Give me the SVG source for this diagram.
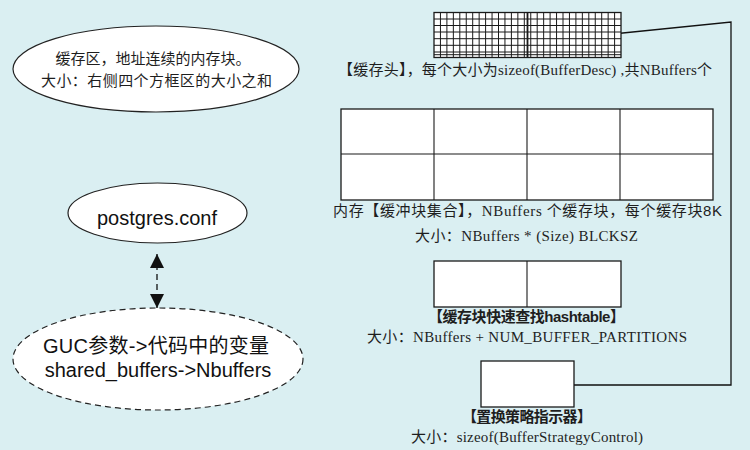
<svg xmlns="http://www.w3.org/2000/svg" width="750" height="450" viewBox="0 0 750 450">
<style>
.bg{fill:#daeff2}
.box{fill:#ffffff;stroke:#1a1a1a;stroke-width:1.3}
.ln{stroke:#1a1a1a;stroke-width:1.1;fill:none}
.grid{stroke:#1a1a1a;stroke-width:1}
.cap{font-family:"Liberation Serif","Noto Sans CJK SC",serif;font-size:15px;fill:#1e1e1e;text-anchor:middle}
.bold{font-weight:bold}
.sans{font-family:"Liberation Sans","Noto Sans CJK SC",sans-serif;fill:#111;text-anchor:middle}
.ell{fill:#ffffff;stroke:#222;stroke-width:1.2}
.dash{stroke-dasharray:6 4}
.conn{stroke:#111;stroke-width:1.3;fill:none}
</style>
<defs>
<marker id="ah" viewBox="0 0 10 10" refX="10" refY="5" markerWidth="10" markerHeight="12" markerUnits="userSpaceOnUse" orient="auto-start-reverse">
<path d="M0,0 L10,5 L0,10 z" fill="#111"/>
</marker>
<marker id="ah2" viewBox="0 0 14 14" refX="14" refY="7" markerWidth="14" markerHeight="14" markerUnits="userSpaceOnUse" orient="auto-start-reverse">
<path d="M0,0 L14,7 L0,14 z" fill="#111"/>
</marker>
</defs>
<rect class="bg" x="0" y="0" width="750" height="450"/>

<g id="connectors">
<polyline class="conn" points="603,35 731,22 731,385 574,385"/>
<line class="conn dash" x1="157" y1="254" x2="157" y2="308" marker-start="url(#ah2)" marker-end="url(#ah2)"/>
</g>

<g id="buffer-area-note">
<ellipse class="ell" cx="156" cy="69" rx="143" ry="43"/>
<text class="cap" x="153" y="64" textLength="195">缓存区，地址连续的内存块。</text>
<text class="cap" x="156.5" y="86" textLength="231">大小：右侧四个方框区的大小之和</text>
</g>

<g id="postgres-conf">
<ellipse class="ell" cx="157.5" cy="213" rx="89.5" ry="30"/>
<text class="sans" x="157" y="225" font-size="20">postgres.conf</text>
</g>

<g id="guc-param">
<ellipse class="ell dash" cx="158" cy="359" rx="145" ry="51"/>
<text class="sans" x="156" y="353" font-size="20" textLength="226">GUC参数-&gt;代码中的变量</text>
<text class="sans" x="158" y="377" font-size="20">shared_buffers-&gt;Nbuffers</text>
</g>

<g id="buffer-descriptors">
<rect class="box" x="434" y="12.5" width="187" height="45"/>
<g class="grid">
<line x1="434" y1="19" x2="621" y2="19"/>
<line x1="434" y1="25.5" x2="621" y2="25.5"/>
<line x1="434" y1="32" x2="621" y2="32"/>
<line x1="434" y1="38.7" x2="621" y2="38.7"/>
<line x1="434" y1="45.3" x2="621" y2="45.3"/>
<line x1="434" y1="52" x2="621" y2="52"/>
<line x1="434" y1="54.7" x2="621" y2="54.7"/>
<line x1="440.45" y1="12.5" x2="440.45" y2="57.5"/>
<line x1="446.9" y1="12.5" x2="446.9" y2="57.5"/>
<line x1="453.35" y1="12.5" x2="453.35" y2="57.5"/>
<line x1="459.8" y1="12.5" x2="459.8" y2="57.5"/>
<line x1="466.25" y1="12.5" x2="466.25" y2="57.5"/>
<line x1="472.7" y1="12.5" x2="472.7" y2="57.5"/>
<line x1="479.15" y1="12.5" x2="479.15" y2="57.5"/>
<line x1="485.6" y1="12.5" x2="485.6" y2="57.5"/>
<line x1="492.05" y1="12.5" x2="492.05" y2="57.5"/>
<line x1="498.5" y1="12.5" x2="498.5" y2="57.5"/>
<line x1="504.95" y1="12.5" x2="504.95" y2="57.5"/>
<line x1="511.4" y1="12.5" x2="511.4" y2="57.5"/>
<line x1="517.85" y1="12.5" x2="517.85" y2="57.5"/>
<line x1="524.3" y1="12.5" x2="524.3" y2="57.5"/>
<line x1="527.5" y1="12.5" x2="527.5" y2="57.5" stroke-width="1.8"/>
<line x1="530.75" y1="12.5" x2="530.75" y2="57.5"/>
<line x1="537.2" y1="12.5" x2="537.2" y2="57.5"/>
<line x1="543.65" y1="12.5" x2="543.65" y2="57.5"/>
<line x1="550.1" y1="12.5" x2="550.1" y2="57.5"/>
<line x1="556.55" y1="12.5" x2="556.55" y2="57.5"/>
<line x1="563" y1="12.5" x2="563" y2="57.5"/>
<line x1="569.45" y1="12.5" x2="569.45" y2="57.5"/>
<line x1="575.9" y1="12.5" x2="575.9" y2="57.5"/>
<line x1="582.35" y1="12.5" x2="582.35" y2="57.5"/>
<line x1="588.8" y1="12.5" x2="588.8" y2="57.5"/>
<line x1="595.25" y1="12.5" x2="595.25" y2="57.5"/>
<line x1="601.7" y1="12.5" x2="601.7" y2="57.5"/>
<line x1="608.15" y1="12.5" x2="608.15" y2="57.5"/>
<line x1="614.6" y1="12.5" x2="614.6" y2="57.5"/>
</g>
<text class="cap" x="525" y="75" font-size="14" textLength="374">【缓存头】，每个大小为sizeof(BufferDesc) ,共NBuffers个</text>
</g>

<g id="buffer-blocks">
<rect class="box" x="341" y="109" width="372" height="91"/>
<line class="ln" x1="341" y1="154" x2="713" y2="154"/>
<line class="ln" x1="434" y1="109" x2="434" y2="200"/>
<line class="ln" x1="527" y1="109" x2="527" y2="200"/>
<line class="ln" x1="620" y1="109" x2="620" y2="200"/>
<text class="cap" x="527.5" y="216" textLength="389">内存【缓冲块集合】，NBuffers 个缓存块，每个缓存块<tspan font-family="Liberation Sans, sans-serif">8K</tspan></text>
<text class="cap" x="526.5" y="241" textLength="223">大小：NBuffers *  (Size) BLCKSZ</text>
</g>

<g id="hashtable">
<rect class="box" x="434" y="261" width="187" height="46"/>
<line class="ln" x1="527" y1="261" x2="527" y2="307"/>
<text class="cap bold" x="526.5" y="322" font-size="14" textLength="197">【缓存块快速查找<tspan font-family="Liberation Sans, sans-serif">hashtable</tspan>】</text>
<text class="cap" x="527" y="342" textLength="320">大小：NBuffers + NUM_BUFFER_PARTITIONS</text>
</g>

<g id="strategy-control">
<rect class="box" x="481" y="361" width="93" height="46"/>
<text class="cap bold" x="527" y="422" font-size="14.5" textLength="130">【置换策略指示器】</text>
<text class="cap" x="527" y="442" textLength="232">大小：sizeof(BufferStrategyControl)</text>
</g>
</svg>
